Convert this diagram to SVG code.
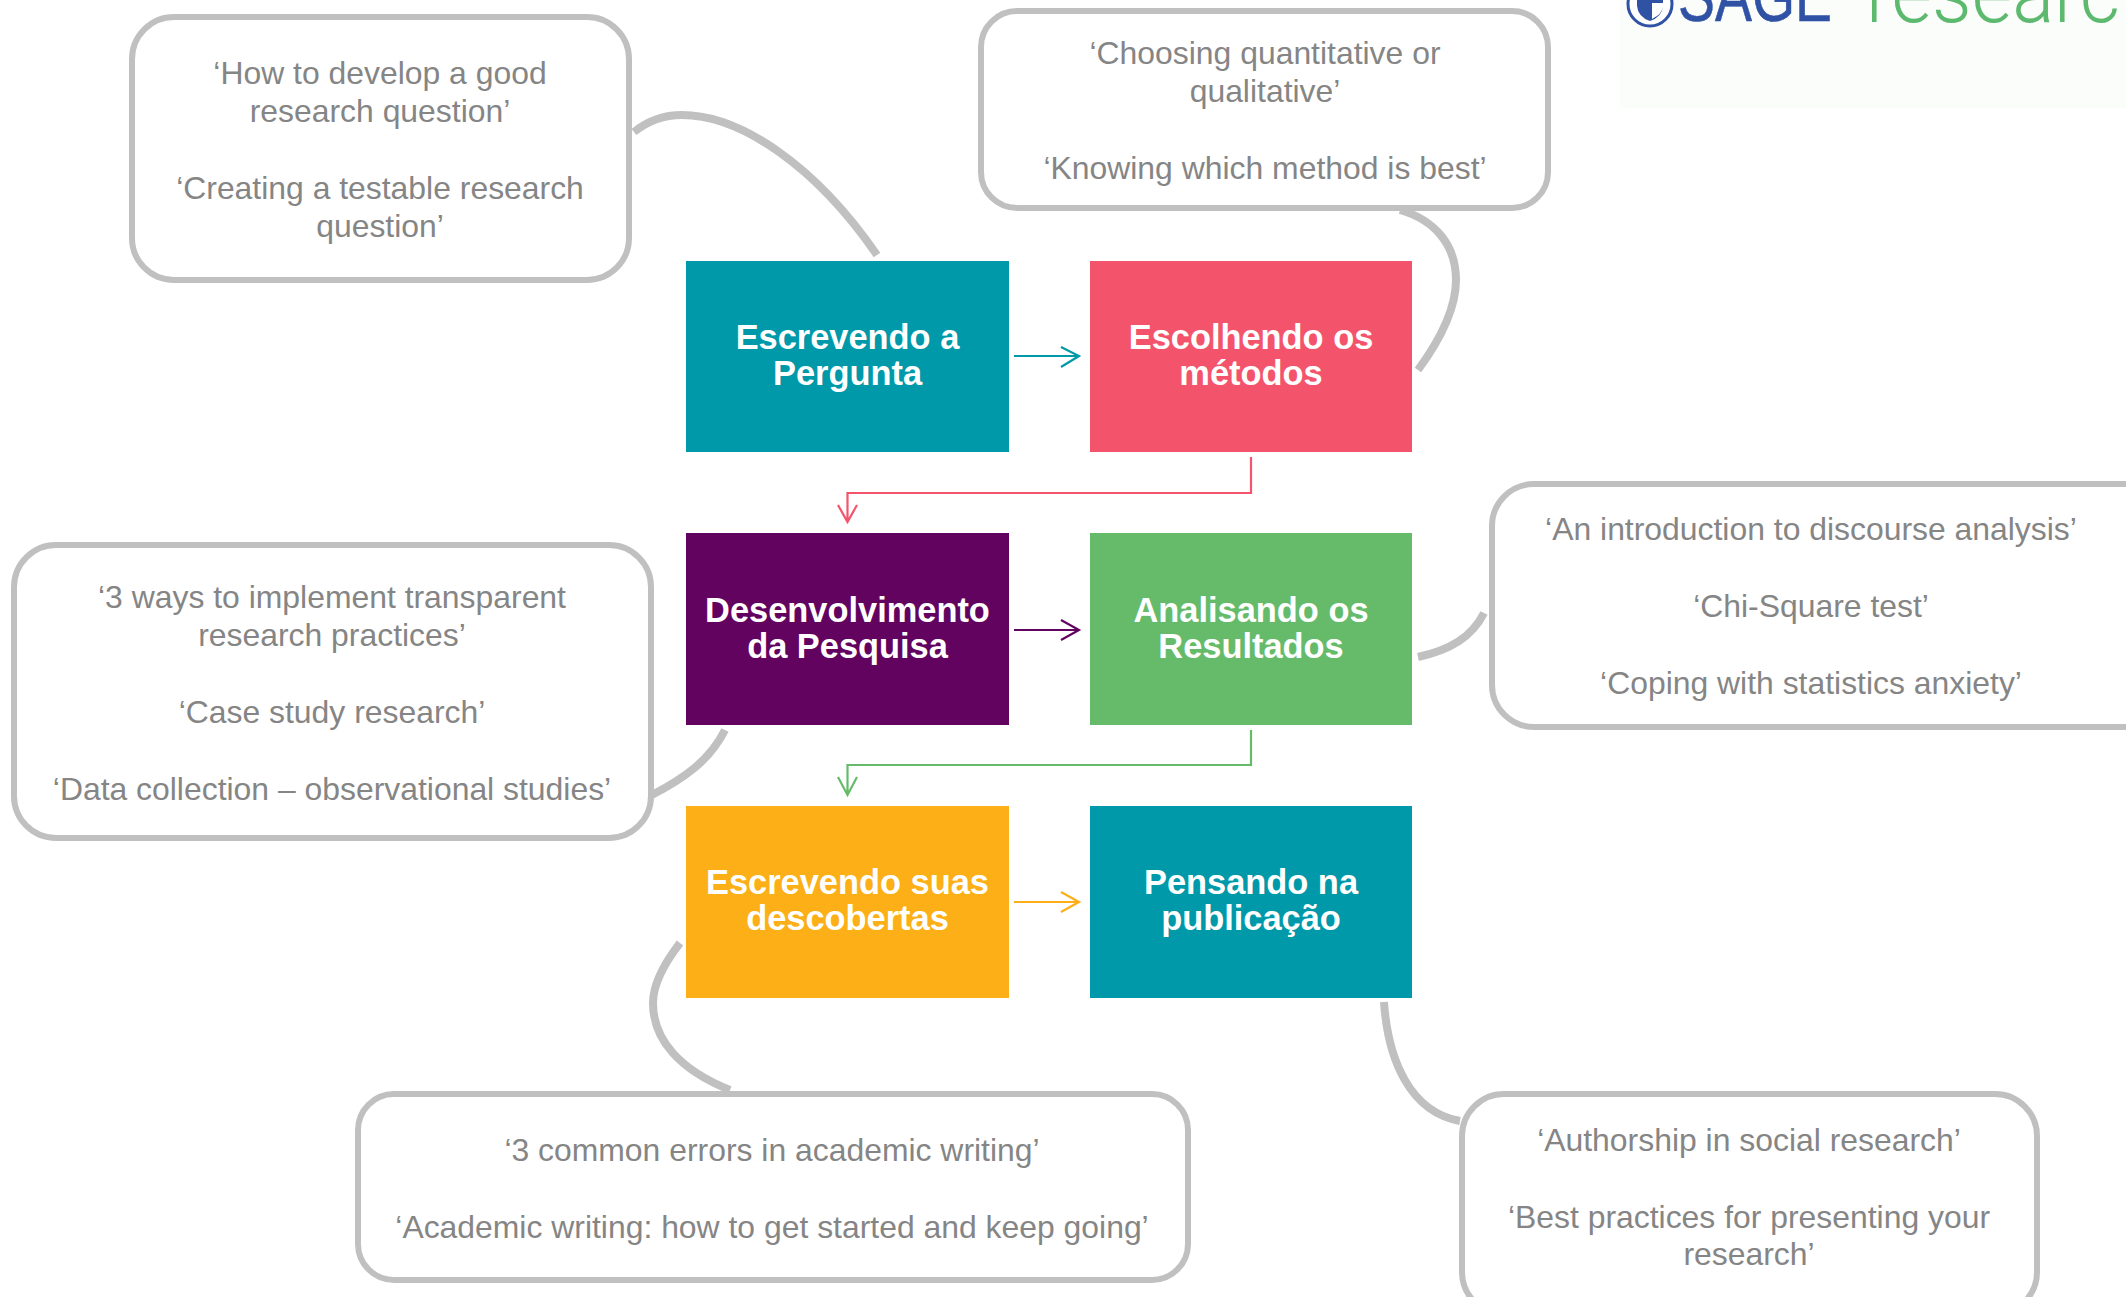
<svg xmlns="http://www.w3.org/2000/svg" width="2126" height="1297" viewBox="0 0 2126 1297">
<defs>
<style>
.c{fill:#fff;stroke:#c0c0c0;stroke-width:6}
.l{fill:none;stroke:#c0c0c0;stroke-width:8}
.t{font:31.900px "Liberation Sans",Arial,sans-serif;fill:#858585;text-anchor:middle}
.b{stroke:none}
.n{font:bold 34.400px "Liberation Sans",Arial,sans-serif;fill:#fff;text-anchor:middle}
.a{fill:none;stroke-width:2.2}
</style>
</defs>
<rect width="2126" height="1297" fill="#fff"/>
<g id="logo">
<rect x="1620" y="0" width="506" height="108" fill="#fbfdfb"/>
<ellipse cx="1650" cy="4" rx="22" ry="22" fill="#fff" stroke="#2f52a4" stroke-width="3"/>
<path d="M1637 -10H1663V6Q1662 17 1650 21Q1638 17 1637 6Z" fill="#2f52a4"/>
<path d="M1652 3H1663V7Q1662 14 1652 19Z" fill="#fff"/>
<text x="1678" y="20.500" font-family="Liberation Sans,sans-serif" font-size="72" fill="#2f52a4" stroke="#2f52a4" stroke-width="0.6" textLength="154" lengthAdjust="spacingAndGlyphs">SAGE</text>
<text x="1866" y="22" font-family="Roboto,Liberation Sans,sans-serif" font-weight="300" font-size="84" fill="#5cb96d" textLength="254" lengthAdjust="spacingAndGlyphs">researc</text>
</g>
<g id="connectors">
<path class="l" d="M634 132Q655 115 682 115C740 115 815 165 877 255"/>
<path class="l" d="M1400 210C1435 220 1456 245 1456 280C1456 310 1440 340 1418 370"/>
<path class="l" d="M1418 657C1450 650 1472 637 1484 613"/>
<path class="l" d="M725 730C710 760 685 778 650 796"/>
<path class="l" d="M680 943C663 965 653 985 653 1003C653 1040 680 1070 730 1090"/>
<path class="l" d="M1384 1002C1388 1060 1410 1112 1460 1121"/>
<g class="a" stroke="#0099a9"><path d="M1014 356H1079M1061 347L1079 356L1061 367"/></g>
<g class="a" stroke="#f4546c"><path d="M1251 457V493H847.500V522M838 505L847.500 522L857 505"/></g>
<g class="a" stroke="#62045f"><path d="M1014 630H1079M1061 620L1079 630L1061 640"/></g>
<g class="a" stroke="#66bb6a"><path d="M1251 730V765H847.500V795M838 777L847.500 795L857 777"/></g>
<g class="a" stroke="#fcaf17"><path d="M1014 902H1079M1061 892L1079 902L1061 912"/></g>
</g>
<g id="n1"><rect class="b" x="686" y="261" width="323" height="191" fill="#0099a9"/><text class="n" x="847.500" y="349">Escrevendo a</text><text class="n" x="847.500" y="385">Pergunta</text></g>
<g id="n2"><rect class="b" x="1090" y="261" width="322" height="191" fill="#f3546b"/><text class="n" x="1251" y="349">Escolhendo os</text><text class="n" x="1251" y="385">métodos</text></g>
<g id="n3"><rect class="b" x="686" y="533" width="323" height="192" fill="#62045f"/><text class="n" x="847.500" y="622">Desenvolvimento</text><text class="n" x="847.500" y="658">da Pesquisa</text></g>
<g id="n4"><rect class="b" x="1090" y="533" width="322" height="192" fill="#66bb6a"/><text class="n" x="1251" y="622">Analisando os</text><text class="n" x="1251" y="658">Resultados</text></g>
<g id="n5"><rect class="b" x="686" y="806" width="323" height="192" fill="#fcaf17"/><text class="n" x="847.500" y="894">Escrevendo suas</text><text class="n" x="847.500" y="930">descobertas</text></g>
<g id="n6"><rect class="b" x="1090" y="806" width="322" height="192" fill="#0099a9"/><text class="n" x="1251" y="894">Pensando na</text><text class="n" x="1251" y="930">publicação</text></g>
<g id="c1"><rect class="c" x="132" y="17" width="497" height="263" rx="42"/><text class="t" x="380" y="84">‘How to develop a good</text><text class="t" x="380" y="122">research question’</text><text class="t" x="380" y="199">‘Creating a testable research</text><text class="t" x="380" y="237">question’</text></g>
<g id="c2"><rect class="c" x="981" y="11" width="567" height="197" rx="36"/><text class="t" x="1265" y="64">‘Choosing quantitative or</text><text class="t" x="1265" y="102">qualitative’</text><text class="t" x="1265" y="179">‘Knowing which method is best’</text></g>
<g id="c3"><rect class="c" x="1492" y="484" width="680" height="243" rx="42"/><text class="t" x="1811" y="540">‘An introduction to discourse analysis’</text><text class="t" x="1811" y="617">‘Chi-Square test’</text><text class="t" x="1811" y="694">‘Coping with statistics anxiety’</text></g>
<g id="c4"><rect class="c" x="14" y="545" width="637" height="293" rx="42"/><text class="t" x="332" y="608">‘3 ways to implement transparent</text><text class="t" x="332" y="646">research practices’</text><text class="t" x="332" y="723">‘Case study research’</text><text class="t" x="332" y="800">‘Data collection – observational studies’</text></g>
<g id="c5"><rect class="c" x="358" y="1094" width="830" height="186" rx="36"/><text class="t" x="772" y="1161">‘3 common errors in academic writing’</text><text class="t" x="772" y="1238">‘Academic writing: how to get started and keep going’</text></g>
<g id="c6"><rect class="c" x="1462" y="1094" width="575" height="220" rx="42"/><text class="t" x="1749" y="1151">‘Authorship in social research’</text><text class="t" x="1749" y="1228">‘Best practices for presenting your</text><text class="t" x="1749" y="1265">research’</text></g>
</svg>
